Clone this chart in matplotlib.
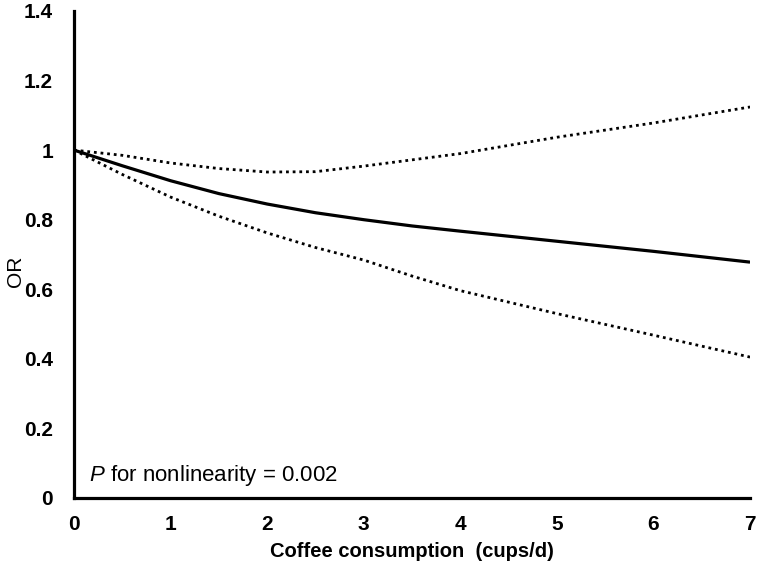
import matplotlib
matplotlib.use("Agg")
import matplotlib.pyplot as plt

plt.rcParams['font.family'] = ['Liberation Sans', 'DejaVu Sans']
plt.rcParams['mathtext.fontset'] = 'custom'
plt.rcParams['mathtext.it'] = 'Liberation Sans:italic'
plt.rcParams['mathtext.rm'] = 'Liberation Sans'

x_vals = [0, 0.5, 1, 1.5, 2, 2.5, 3, 3.5, 4, 5, 6, 7]
or_est = [1.0, 0.955, 0.912, 0.875, 0.845, 0.82, 0.80, 0.782, 0.767, 0.738, 0.709, 0.678]
ci_upper = [1.0, 0.985, 0.963, 0.947, 0.937, 0.938, 0.954, 0.972, 0.99, 1.037, 1.078, 1.124]
ci_lower = [1.0, 0.93, 0.865, 0.81, 0.762, 0.72, 0.684, 0.638, 0.596, 0.530, 0.468, 0.405]

x_ticks = [0, 1, 2, 3, 4, 5, 6, 7]
y_ticks = [0, 0.2, 0.4, 0.6, 0.8, 1.0, 1.2, 1.4]
y_ticklabels = ['0', '0.2', '0.4', '0.6', '0.8', '1', '1.2', '1.4']

fig = plt.figure(figsize=(7.57, 5.65), dpi=100)
ax = fig.add_axes([0.0978, 0.1186, 0.893, 0.862])

ax.plot(x_vals, or_est, color='black', lw=2.3, solid_capstyle='butt')
ax.plot(x_vals, ci_upper, color='black', lw=2.0, linestyle=(0, (1, 1.4)), dash_capstyle='butt')
ax.plot(x_vals, ci_lower, color='black', lw=2.0, linestyle=(0, (1, 1.4)), dash_capstyle='butt')

ax.set_xlim(0, 7)
ax.set_ylim(0, 1.4)
ax.set_xticks(x_ticks)
ax.set_xticklabels([str(t) for t in x_ticks], fontweight='bold', fontsize=15)
ax.set_yticks(y_ticks)
ax.set_yticklabels(y_ticklabels, fontweight='bold', fontsize=15)
ax.tick_params(axis='both', length=0)
ax.tick_params(axis='y', pad=15)
ax.tick_params(axis='x', pad=12)

for s in ['top', 'right']:
    ax.spines[s].set_visible(False)
for s in ['left', 'bottom']:
    ax.spines[s].set_linewidth(2.3)
    ax.spines[s].set_color('black')

ax.set_xlabel('Coffee consumption  (cups/d)', fontweight='bold', fontsize=14.5, labelpad=6)
fig.text(0.021, 0.52, 'OR', rotation=90, fontsize=15, ha='center', va='center')

ax.text(0.16, 0.05, r'$\mathit{P}$ for nonlinearity = 0.002', fontsize=16, ha='left', va='baseline')

fig.savefig('out.png', dpi=100)
